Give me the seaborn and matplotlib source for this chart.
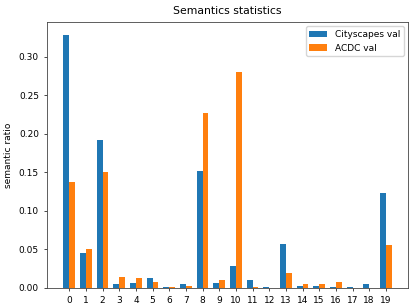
import pandas as pd
import matplotlib
matplotlib.use('Agg')
import matplotlib.pyplot as plt
import seaborn as sns

# 클래스별 비율
classes = [str(i) for i in range(20)]
cityscapes_val = [0.329, 0.046, 0.192, 0.005, 0.0065, 0.0126, 0.0013, 0.005, 0.1515, 0.0065,
                  0.0286, 0.0104, 0.0013, 0.0567, 0.002, 0.0026, 0.001, 0.001, 0.005, 0.1238]
acdc_val = [0.138, 0.0506, 0.150, 0.0143, 0.0126, 0.0078, 0.0013, 0.002, 0.2277, 0.010,
            0.281, 0.0013, 0.0, 0.019, 0.0048, 0.0048, 0.0078, 0.0, 0.0, 0.0558]
series_names = ['Cityscapes val', 'ACDC val']

df = pd.DataFrame({
    'class': classes * 2,
    'ratio': cityscapes_val + acdc_val,
    'set': [series_names[0]] * len(classes) + [series_names[1]] * len(classes),
})

plt.rcParams['font.family'] = ['DejaVu Sans']
fig, ax = plt.subplots(figsize=(4.16, 3.08), dpi=100)

sns.barplot(data=df, x='class', y='ratio', hue='set', order=classes,
            hue_order=series_names, palette=['#1f77b4', '#ff7f0e'],
            saturation=1, width=0.7, ax=ax)

ax.set_xlim(-1.335, 20.335)
ax.set_xlabel('')
ax.set_ylabel('semantic ratio', fontsize=6.5)
ax.set_title('Semantics statistics', fontsize=7.8)
ax.tick_params(labelsize=6.5, length=2.3, width=0.5)
for s in ax.spines.values():
    s.set_linewidth(0.6)
    s.set_color('#444444')
ax.legend(fontsize=6.5, loc='upper right')

fig.subplots_adjust(left=0.113, right=0.981, bottom=0.065, top=0.929)
fig.savefig('out.png', dpi=100)
